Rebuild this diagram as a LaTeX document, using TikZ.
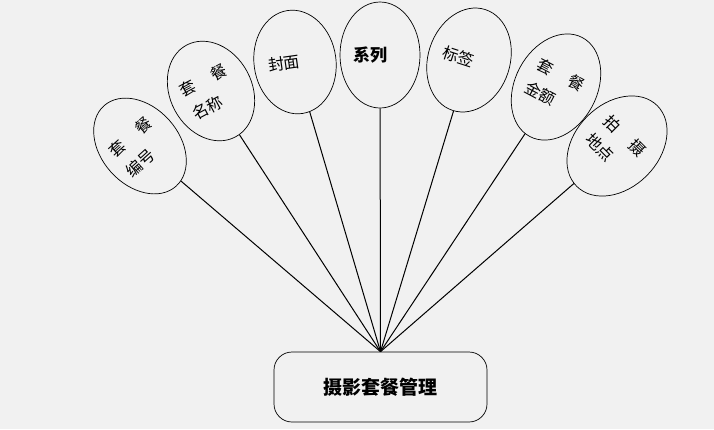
\documentclass[tikz,border=0pt]{standalone}
\usepackage{fontspec}
\setmainfont{Noto Sans CJK SC}
\usepackage{tikz}
\usetikzlibrary{shapes.geometric}
\definecolor{paper}{RGB}{241,241,241}
\tikzset{
  attr/.style={draw, ellipse, line width=0.7pt, inner sep=0pt, text width=54pt, align=left,
    font=\fontsize{16}{26}\selectfont},
  mgmtbox/.style={draw, rounded corners=18pt, line width=0.7pt, minimum width=213pt,
    minimum height=70pt, font=\fontsize{19}{22}\selectfont\bfseries},
  link/.style={line width=1pt}
}

\begin{document}
\begin{tikzpicture}[x=1pt, y=-1pt]

\fill[paper] (0,0) rectangle (714,429);
\useasboundingbox (0,0) rectangle (714,429);

\node[attr, minimum width=78pt, minimum height=108pt, rotate=42] (bianhao) at (140,146) {套\hspace{1.2em}餐\\编号};
\node[attr, minimum width=82pt, minimum height=104pt, rotate=28] (mingcheng) at (211,91) {套\hspace{1.2em}餐\\名称};
\node[attr, minimum width=82pt, minimum height=104pt, rotate=8] (fengmian) at (295,62) {封面};
\node[attr, minimum width=80pt, minimum height=106pt, font=\fontsize{17}{26}\selectfont\bfseries] (xilie) at (380,55) {系列};
\node[attr, minimum width=82pt, minimum height=106pt, rotate=-18] (biaoqian) at (469,60) {标签};
\node[attr, minimum width=82pt, minimum height=112pt, rotate=-28] (jine) at (556,87) {套\hspace{1.2em}餐\\金额};
\node[attr, minimum width=84pt, minimum height=114pt, rotate=-45] (didian) at (617,146) {拍\hspace{1.2em}摄\\地点};

\node[mgmtbox] (mgmt) at (380.5,387) {摄影套餐管理};

\foreach \n in {bianhao,mingcheng,fengmian,xilie,biaoqian,jine,didian}
  \draw[link] (\n) -- (mgmt.north);

\end{tikzpicture}
\end{document}
